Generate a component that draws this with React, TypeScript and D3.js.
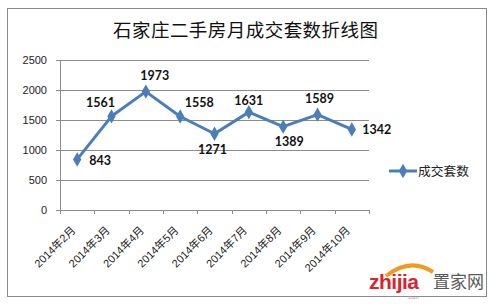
import React from "react";
import * as d3 from "d3";

const title = "石家庄二手房月成交套数折线图";
const seriesName = "成交套数";
const categories = [
  "2014年2月", "2014年3月", "2014年4月", "2014年5月", "2014年6月",
  "2014年7月", "2014年8月", "2014年9月", "2014年10月",
];
const values = [843, 1561, 1973, 1558, 1271, 1631, 1389, 1589, 1342];
const yTicks = [0, 500, 1000, 1500, 2000, 2500];
// label offsets (layout only, px)
const labelDx = [23, -11, 9, 19, -2, 0, 6, 2, 25];
const labelDy = [1, -14, -16, -14, 16, -12, 15, -16, 0];

const W = 495, H = 304;
const plot = { left: 60, right: 369, top: 60, bottom: 210 };
const blue = "#4a7ebb";
const grid = "#8c8c8c";

export default function App() {
  const x = d3.scaleBand<string>().domain(categories).range([plot.left, plot.right]).padding(0);
  const y = d3.scaleLinear().domain([0, 2500]).range([plot.bottom, plot.top]);
  const cx = (i: number) => (x(categories[i]) as number) + x.bandwidth() / 2;
  const line = d3.line<number>().x((_, i) => cx(i)).y((d) => y(d));
  const diamond = d3.symbol().type(d3.symbolDiamond).size(60)() as string;
  const boundaries = categories.map((c) => x(c) as number).concat([plot.right]);

  return (
    <svg width={W} height={H} style={{ position: "absolute", left: 0, top: 0, background: "#fff" }}>
      <rect x={7.5} y={8.5} width={479} height={288} fill="#fff" stroke="#8a8a8a" strokeWidth={1} />
      <text x={113} y={37} textLength={265} lengthAdjust="spacing" fontFamily="'Noto Sans CJK SC'" fontSize={18.5} fill="#111">
        {title}
      </text>
      {yTicks.map((t) => (
        <g key={t}>
          {t > 0 && (
            <line x1={plot.left} x2={plot.right} y1={Math.round(y(t)) + 0.5} y2={Math.round(y(t)) + 0.5} stroke={grid} strokeWidth={1} />
          )}
          <line x1={plot.left - 4} x2={plot.left} y1={Math.round(y(t)) + 0.5} y2={Math.round(y(t)) + 0.5} stroke={grid} />
          <text x={47} y={y(t) + 4} textAnchor="end" fontFamily="'Liberation Sans', Arial, sans-serif" fontSize={11} fill="#222">
            {t}
          </text>
        </g>
      ))}
      <line x1={plot.left + 0.5} x2={plot.left + 0.5} y1={plot.top} y2={plot.bottom} stroke={grid} />
      <line x1={plot.left} x2={plot.right} y1={plot.bottom + 0.5} y2={plot.bottom + 0.5} stroke={grid} />
      {boundaries.map((b, i) => (
        <line key={i} x1={Math.round(b) + 0.5} x2={Math.round(b) + 0.5} y1={plot.bottom} y2={plot.bottom + 4} stroke={grid} />
      ))}
      {categories.map((c, i) => (
        <text
          key={c}
          transform={`translate(${cx(i) - 1},${plot.bottom + 21}) rotate(-45)`}
          textAnchor="end"
          fontFamily="'Liberation Sans', 'Noto Sans CJK SC', sans-serif"
          fontSize={11}
          fill="#222"
        >
          {c}
        </text>
      ))}
      <path d={line(values) as string} fill="none" stroke={blue} strokeWidth={3} strokeLinejoin="round" />
      {values.map((v, i) => (
        <path key={i} d={diamond} transform={`translate(${cx(i)},${y(v)})`} fill={blue} />
      ))}
      {values.map((v, i) => (
        <text
          key={"l" + i}
          x={cx(i) + labelDx[i]}
          y={y(v) + labelDy[i] + 4.5}
          textAnchor="middle"
          fontFamily="Lato, 'Liberation Sans', sans-serif"
          fontWeight="bold"
          fontSize={12.5}
          fill="#111"
        >
          {v}
        </text>
      ))}
      <line x1={389} x2={417} y1={171} y2={171} stroke={blue} strokeWidth={3} />
      <path d={diamond} transform="translate(403,171)" fill={blue} />
      <text x={418} y={175.5} textLength={51} lengthAdjust="spacingAndGlyphs" fontFamily="'Noto Sans CJK SC'" fontSize={12.5} fill="#222">
        {seriesName}
      </text>
      <g>
        <path d="M386,276 Q410,257 433,272" fill="none" stroke="#f39a1e" strokeWidth={4} />
        <text x={369} y={289} fontFamily="'Liberation Sans', Arial, sans-serif" fontWeight="bold" fontSize={21} fill="#d9232e" letterSpacing={-0.5}>
          zhijia
        </text>
        <text x={433} y={288} fontFamily="'Noto Sans CJK SC'" fontSize={17} fill="#5a5a5a">
          置家网
        </text>
        <text x={407} y={299} fontFamily="'Liberation Sans', Arial, sans-serif" fontSize={5.5} fill="#999">
          .com
        </text>
      </g>
    </svg>
  );
}
